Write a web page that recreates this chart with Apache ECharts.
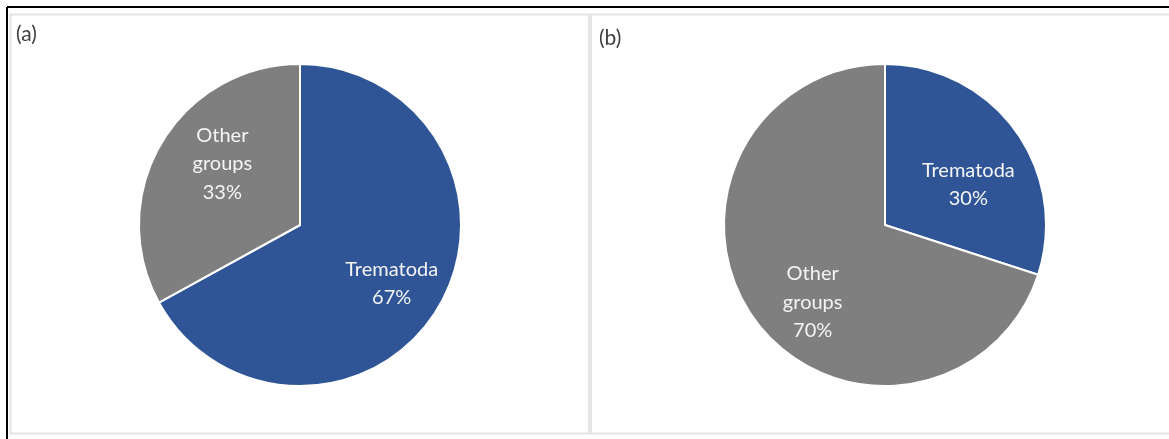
<!DOCTYPE html>
<html><head><meta charset="utf-8">
<script src="https://cdn.jsdelivr.net/npm/echarts@6/dist/echarts.min.js"></script>
<style>html,body{margin:0;padding:0;background:#fff}#c{width:1169px;height:439px}</style>
</head><body><div id="c"></div>
<script>
const categories = ['Trematoda', 'Other groups'];
const valuesA = [67, 33];
const valuesB = [30, 70];
const panelTitles = ['(a)', '(b)'];
const colors = ['#2F5597', '#7F7F7F'];

const chart = echarts.init(document.getElementById('c'));
const font = 'Lato, "Open Sans", sans-serif';

function pies(vals, cx, offsets) {
  const data = categories.map((c, i) => ({ name: c, value: vals[i], itemStyle: { color: colors[i] } }));
  return [
    {
      type: 'pie', center: [cx, 225], radius: [0, 161], startAngle: 90, clockwise: true,
      silent: true, label: { show: false }, labelLine: { show: false },
      itemStyle: { borderColor: '#fff', borderWidth: 2 }, data: data
    },
    {
      type: 'pie', center: [cx, 225], radius: [40, 160], startAngle: 90, clockwise: true,
      silent: true, labelLine: { show: false },
      itemStyle: { color: 'transparent', borderWidth: 0 },
      label: {
        show: true, position: 'inside', color: '#f4f4f4', fontFamily: font, fontSize: 20, lineHeight: 28.5,
        formatter: p => p.name.replace(' ', '\n') + '\n' + p.value + '%'
      },
      data: categories.map((c, i) => ({ name: c, value: vals[i], itemStyle: { color: 'transparent' },
        label: { offset: offsets[i] } }))
    }
  ];
}

chart.setOption({
  animation: false,
  graphic: [
    { type: 'line', shape: { x1: 7, y1: 7, x2: 1169, y2: 7 }, style: { stroke: '#000', lineWidth: 2 } },
    { type: 'line', shape: { x1: 7, y1: 7, x2: 7, y2: 439 }, style: { stroke: '#000', lineWidth: 2 } },
    { type: 'rect', shape: { x: 10.5, y: 14.5, width: 1170, height: 419 }, style: { fill: 'none', stroke: '#e3e3e3', lineWidth: 2 } },
    { type: 'rect', shape: { x: 588, y: 14, width: 4, height: 420 }, style: { fill: '#e6e6e6' } },
    { type: 'text', left: 16, top: 24, style: { text: panelTitles[0], fill: '#404040', font: '21px ' + font } },
    { type: 'text', left: 599, top: 28, style: { text: panelTitles[1], fill: '#404040', font: '21px ' + font } }
  ],
  series: [
    ...pies(valuesA, 300, [[3, 6], [11, -9]]),
    ...pies(valuesB, 885, [[0, 20], [11, 17]])
  ]
});
</script></body></html>
